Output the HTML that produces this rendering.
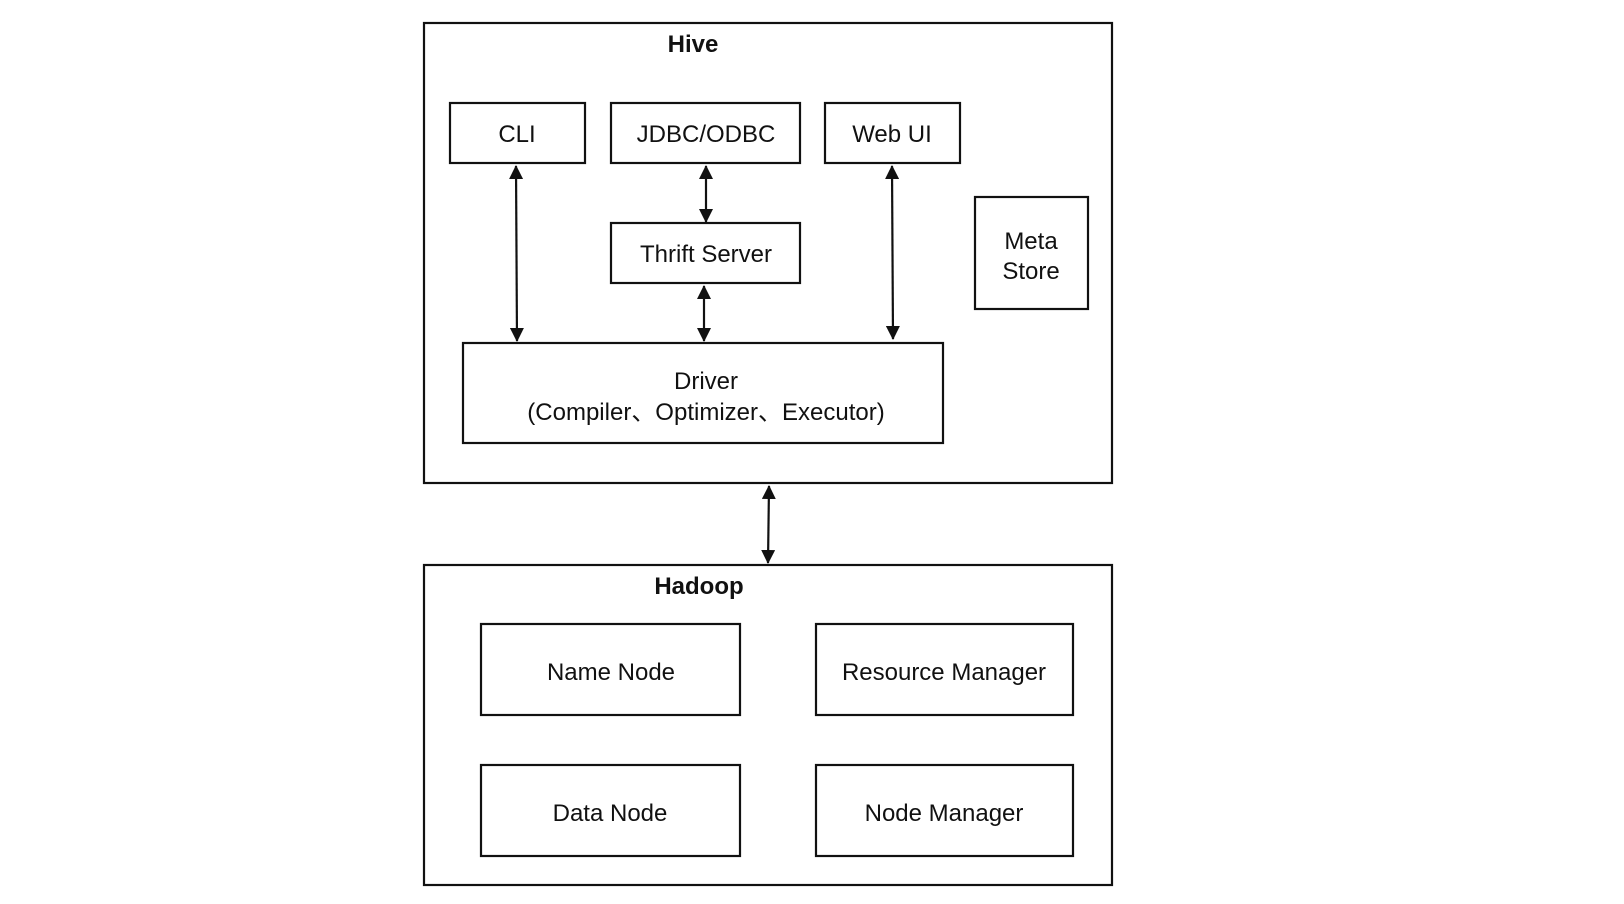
<!DOCTYPE html>
<html><head><meta charset="utf-8"><style>
html,body{margin:0;padding:0;background:#fff;}
svg{display:block;}
text{font-family:"Liberation Sans","Noto Sans CJK SC",sans-serif;font-size:24px;fill:#111;text-anchor:middle;}
.b{font-weight:bold;}
rect{fill:#fff;stroke:#111;stroke-width:2.2;}
line{stroke:#111;stroke-width:2.2;}
</style></head><body>
<svg width="1624" height="904" viewBox="0 0 1624 904" xmlns="http://www.w3.org/2000/svg">
<defs>
<marker id="a" markerWidth="14" markerHeight="14" refX="13" refY="7" orient="auto-start-reverse" markerUnits="userSpaceOnUse">
<path d="M0,0 L14,7 L0,14 Z" fill="#111"/>
</marker>
</defs>
<rect x="424" y="23" width="688" height="460"/>
<text x="693" y="52" class="b">Hive</text>
<rect x="450" y="103" width="135" height="60"/><text x="517" y="142">CLI</text>
<rect x="611" y="103" width="189" height="60"/><text x="706" y="142">JDBC/ODBC</text>
<rect x="825" y="103" width="135" height="60"/><text x="892" y="142">Web UI</text>
<rect x="611" y="223" width="189" height="60"/><text x="706" y="262">Thrift Server</text>
<rect x="975" y="197" width="113" height="112"/><text x="1031" y="249">Meta</text><text x="1031" y="279">Store</text>
<rect x="463" y="343" width="480" height="100"/><text x="706" y="389">Driver</text><text x="706" y="420">(Compiler、Optimizer、Executor)</text>
<line x1="516" y1="166" x2="517" y2="341" marker-start="url(#a)" marker-end="url(#a)"/>
<line x1="706" y1="166" x2="706" y2="222" marker-start="url(#a)" marker-end="url(#a)"/>
<line x1="704" y1="286" x2="704" y2="341" marker-start="url(#a)" marker-end="url(#a)"/>
<line x1="892" y1="166" x2="893" y2="339" marker-start="url(#a)" marker-end="url(#a)"/>
<line x1="769" y1="486" x2="768" y2="563" marker-start="url(#a)" marker-end="url(#a)"/>
<rect x="424" y="565" width="688" height="320"/>
<text x="699" y="594" class="b">Hadoop</text>
<rect x="481" y="624" width="259" height="91"/><text x="611" y="680">Name Node</text>
<rect x="816" y="624" width="257" height="91"/><text x="944" y="680">Resource Manager</text>
<rect x="481" y="765" width="259" height="91"/><text x="610" y="821">Data Node</text>
<rect x="816" y="765" width="257" height="91"/><text x="944" y="821">Node Manager</text>
</svg>
</body></html>
